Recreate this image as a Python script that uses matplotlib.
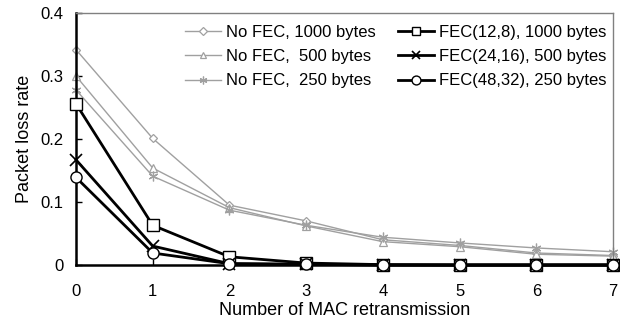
import matplotlib
matplotlib.use("Agg")
import matplotlib.pyplot as plt

plt.rcParams['font.family'] = ['Liberation Sans', 'DejaVu Sans']

x = [0, 1, 2, 3, 4, 5, 6, 7]
nofec_1000 = [0.342, 0.201, 0.095, 0.070, 0.040, 0.031, 0.019, 0.015]
nofec_500 = [0.300, 0.154, 0.091, 0.062, 0.037, 0.029, 0.017, 0.014]
nofec_250 = [0.278, 0.141, 0.087, 0.063, 0.044, 0.035, 0.027, 0.021]
fec_12_8 = [0.256, 0.063, 0.013, 0.003, 0.0005, 0.0, 0.0, 0.0]
fec_24_16 = [0.167, 0.030, 0.002, 0.001, 0.0, 0.0, 0.0, 0.0]
fec_48_32 = [0.139, 0.019, 0.002, 0.001, 0.0, 0.0, 0.0, 0.0]

labels = ['No FEC, 1000 bytes', 'No FEC,  500 bytes', 'No FEC,  250 bytes',
          'FEC(12,8), 1000 bytes', 'FEC(24,16), 500 bytes', 'FEC(48,32), 250 bytes']

fig = plt.figure(figsize=(6.2, 3.2), dpi=100)
ax = fig.add_axes([0.1226, 0.172, 0.8661, 0.787])

gray = '#a0a0a0'
ax.plot(x, nofec_1000, color=gray, lw=1.0, marker='D', ms=4.5, mfc='white', mec=gray, mew=0.9, label=labels[0])
ax.plot(x, nofec_500, color=gray, lw=1.0, marker='^', ms=6, mfc='white', mec=gray, mew=0.9, label=labels[1])
ax.plot(x, nofec_250, color=gray, lw=1.0, marker=(6, 2, 0), ms=7, mfc='white', mec=gray, mew=0.9, label=labels[2])
ax.plot(x, fec_12_8, color='black', lw=2.0, marker='s', ms=8, mfc='white', mec='black', mew=1.0, label=labels[3], zorder=3)
ax.plot(x, fec_24_16, color='black', lw=2.0, marker='x', ms=8, mfc='white', mec='black', mew=1.2, label=labels[4], zorder=3)
ax.plot(x, fec_48_32, color='black', lw=2.0, marker='o', ms=8, mfc='white', mec='black', mew=1.0, label=labels[5], zorder=3)

ax.set_xlim(0, 7)
ax.set_ylim(0, 0.4)
ax.set_xticks(x)
ax.set_yticks([0, 0.1, 0.2, 0.3, 0.4])
ax.set_yticklabels(['0', '0.1', '0.2', '0.3', '0.4'])
ax.tick_params(axis='both', direction='in', length=4, width=1, labelsize=12, colors='black')
ax.tick_params(axis='x', pad=14)
ax.tick_params(axis='y', pad=9)

for s in ['left', 'bottom']:
    ax.spines[s].set_linewidth(1.8)
    ax.spines[s].set_color('black')
for s in ['top', 'right']:
    ax.spines[s].set_linewidth(1.0)
    ax.spines[s].set_color('#808080')

for line in ax.get_lines():
    line.set_clip_on(False)

ax.set_xlabel('Number of MAC retransmission', fontsize=13, labelpad=2)
ax.set_ylabel('Packet loss rate', fontsize=13, labelpad=5)

ax.legend(ncol=2, loc='upper right', bbox_to_anchor=(1.0, 0.98), frameon=False,
          fontsize=12, handlelength=2.15, handletextpad=0.3, columnspacing=1.35,
          labelspacing=0.56, borderaxespad=0.2, borderpad=0.2, markerscale=0.8)

fig.savefig('out.png', dpi=100)
